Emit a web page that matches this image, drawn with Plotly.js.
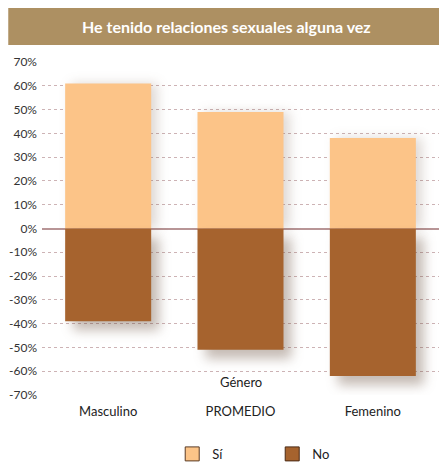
<!DOCTYPE html>
<html>
<head>
<meta charset="utf-8">
<script src="https://cdn.plot.ly/plotly-3.0.1.min.js"></script>
<style>
html,body{margin:0;padding:0;background:#fff;}
#chart{width:439px;height:464px;}
#chart .barlayer .trace:nth-child(2) .point path{filter:drop-shadow(8px 9px 6px rgba(90,60,40,0.35));}
#chart .barlayer .trace:nth-child(1) .point path{filter:drop-shadow(6px 0px 6px rgba(90,60,40,0.2));}
</style>
</head>
<body>
<div id="chart"></div>
<script>
const categories = ["Masculino", "PROMEDIO", "Femenino"];
const siValues = [0.61, 0.49, 0.38];
const noValues = [-0.39, -0.51, -0.62];
const yTickVals = [0.7,0.6,0.5,0.4,0.3,0.2,0.1,0,-0.1,-0.2,-0.3,-0.4,-0.5,-0.6,-0.7];
const yTickText = ["70%","60%","50%","40%","30%","20%","10%","0%","-10%","-20%","-30%","-40%","-50%","-60%","-70%"];
const titleText = "He tenido relaciones sexuales alguna vez";
const axisLabel = "Género";

const colSi = "#FCC488";
const colNo = "#A6632E";
const font = "Lato, Open Sans, sans-serif";

const traces = [
  {type:"bar", x:categories, y:siValues, name:"Sí", marker:{color:colSi}, showlegend:false, hoverinfo:"skip"},
  {type:"bar", x:categories, y:noValues, name:"No", marker:{color:colNo}, showlegend:false, hoverinfo:"skip"},
  {type:"scatter", mode:"markers", x:[null], y:[null], name:"Sí", marker:{symbol:"square", size:14, color:colSi, line:{color:"#5a3b25", width:1}}},
  {type:"scatter", mode:"markers", x:[null], y:[null], name:"No", marker:{symbol:"square", size:14, color:colNo, line:{color:"#4a2a15", width:1}}}
];

const layout = {
  width:439, height:464,
  margin:{l:42, r:0, t:62, b:69, autoexpand:false},
  paper_bgcolor:"#fff", plot_bgcolor:"#fff",
  barmode:"relative", bargap:0.35,
  font:{family:font, size:11, color:"#333"},
  xaxis:{type:"category", showgrid:false, zeroline:false, showline:false, ticks:"",
         tickfont:{family:font, size:13, color:"#222"}, ticklabelstandoff:7, fixedrange:true},
  yaxis:{range:[-0.7,0.7], tickvals:yTickVals, ticktext:yTickText, showgrid:true,
         gridcolor:"#cdb3b5", griddash:"dot", gridwidth:1,
         zeroline:true, zerolinecolor:"#b89596", zerolinewidth:2,
         showline:false, ticks:"", ticklabelstandoff:4,
         tickfont:{family:font, size:12, color:"#333"}, fixedrange:true},
  legend:{orientation:"h", x:0.328, xanchor:"left", y:-0.177, yanchor:"middle",
          font:{family:font, size:13, color:"#222"}, entrywidth:55, itemwidth:30},
  shapes:[
    {type:"rect", xref:"paper", yref:"paper", x0:-0.085, x1:1.01, y0:1.051, y1:1.162,
     fillcolor:"#AD9062", line:{width:0}, layer:"below"}
  ],
  annotations:[
    {text:"<b>"+titleText+"</b>", xref:"paper", yref:"paper", x:0.464, y:1.106, xanchor:"center", yanchor:"middle",
     showarrow:false, font:{family:font, size:16, color:"#fff"}},
    {text:axisLabel, xref:"paper", yref:"paper", x:0.5, y:0.04, xanchor:"center", yanchor:"middle",
     showarrow:false, font:{family:font, size:13, color:"#222"}}
  ]
};

Plotly.newPlot("chart", traces, layout, {displayModeBar:false, staticPlot:true});
</script>
</body>
</html>
